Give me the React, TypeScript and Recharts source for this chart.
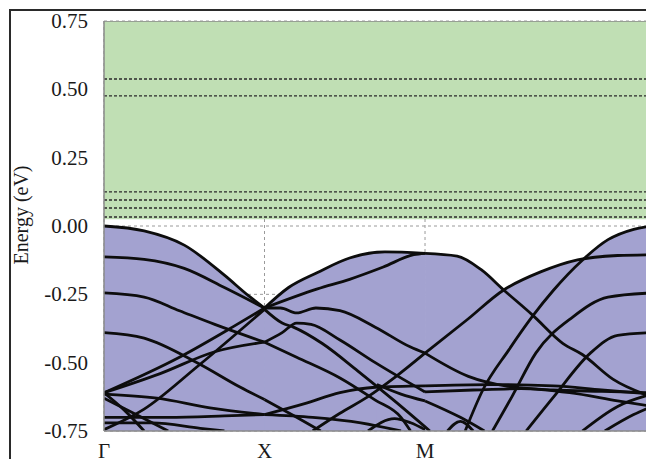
import React from 'react';
import { ComposedChart, Line, Area, XAxis, YAxis, CartesianGrid, Label } from 'recharts';

type P = [number, number];

// high-symmetry path positions (Γ, X, M, Γ)
const kTicks = [0, 1, 2, 3.414];
const kLabels = ['Γ', 'X', 'M', 'Γ'];
const eTicks = [-0.75, -0.5, -0.25, 0, 0.25, 0.5, 0.75];

// conduction region (green) and its flat levels (dashed)
const gapTop = 0.75;
const gapBottom = 0.025;
const levels = [0.538, 0.476, 0.125, 0.095, 0.066, 0.033];

// Γ → X
const bandsGX: P[][] = [
  [[0, 0], [0.25, -0.018], [0.5, -0.07], [0.75, -0.18], [0.9, -0.255], [1, -0.3]],
  [[0, -0.113], [0.25, -0.122], [0.5, -0.155], [0.75, -0.225], [1, -0.3]],
  [[0, -0.245], [0.25, -0.26], [0.47, -0.31], [0.69, -0.36], [1, -0.425]],
  [[0, -0.39], [0.25, -0.41], [0.58, -0.5], [0.85, -0.59], [1, -0.635]],
  [[0, -0.61], [0.47, -0.48], [0.8, -0.37], [1, -0.3]],
  [[0, -0.61], [0.35, -0.54], [0.69, -0.46], [1, -0.425]],
  [[0, -0.745], [0.25, -0.67], [0.58, -0.515], [1, -0.305]],
  [[0, -0.615], [0.33, -0.63], [0.66, -0.665], [1, -0.69]],
  [[0, -0.7], [0.4, -0.7], [0.75, -0.695], [1, -0.69]],
  [[0, -0.61], [0.12, -0.67], [0.25, -0.75]],
  [[0, -0.63], [0.2, -0.69], [0.4, -0.75]],
  [[0, -0.72], [0.3, -0.72], [0.6, -0.74], [0.75, -0.75]],
];

// X → M
const bandsXM: P[][] = [
  [[1, -0.3], [1.15, -0.225], [1.33, -0.17], [1.53, -0.117], [1.75, -0.095], [2, -0.1]],
  [[1, -0.3], [1.33, -0.23], [1.53, -0.195], [1.74, -0.15], [1.93, -0.105], [2, -0.1]],
  [[1, -0.3], [1.1, -0.3], [1.2, -0.318], [1.32, -0.3], [1.47, -0.31], [1.69, -0.37], [1.91, -0.443], [2, -0.465]],
  [[1, -0.425], [1.11, -0.39], [1.2, -0.355], [1.29, -0.36], [1.47, -0.417], [1.69, -0.5], [2, -0.607]],
  [[1, -0.305], [1.11, -0.355], [1.18, -0.37], [1.36, -0.43], [1.58, -0.53], [1.81, -0.64], [2.03, -0.75]],
  [[1, -0.425], [1.2, -0.48], [1.47, -0.556], [1.69, -0.637], [1.85, -0.7], [1.91, -0.75]],
  [[1, -0.635], [1.2, -0.7], [1.35, -0.75]],
  [[1.3, -0.75], [1.47, -0.685], [1.64, -0.626], [1.82, -0.55], [2, -0.465]],
  [[1, -0.69], [1.25, -0.65], [1.47, -0.61], [1.69, -0.59], [2, -0.585]],
  [[1, -0.69], [1.3, -0.7], [1.6, -0.72], [1.85, -0.75]],
  [[1.645, -0.75], [1.81, -0.705], [1.91, -0.72], [2, -0.745]],
  [[1.7, -0.58], [1.85, -0.615], [2, -0.64]],
];

// M → Γ
const bandsMG: P[][] = [
  [[2, -0.1], [2.2, -0.11], [2.35, -0.16], [2.49, -0.234], [2.67, -0.326], [2.86, -0.43], [2.98, -0.47], [3.17, -0.56], [3.414, -0.625]],
  [[2, -0.465], [2.26, -0.344], [2.49, -0.234], [2.72, -0.168], [2.95, -0.124], [3.2, -0.108], [3.414, -0.105]],
  [[2, -0.465], [2.27, -0.55], [2.5, -0.585], [2.8, -0.6], [3.1, -0.605], [3.414, -0.61]],
  [[2.25, -0.75], [2.36, -0.6], [2.52, -0.455], [2.67, -0.33], [2.8, -0.235], [2.98, -0.125], [3.14, -0.05], [3.3, -0.012], [3.414, 0]],
  [[2.42, -0.75], [2.54, -0.626], [2.69, -0.465], [2.92, -0.333], [3.14, -0.26], [3.414, -0.245]],
  [[2.63, -0.75], [2.8, -0.626], [3.03, -0.465], [3.2, -0.4], [3.414, -0.39]],
  [[2.98, -0.75], [3.2, -0.66], [3.414, -0.615]],
  [[3.12, -0.75], [3.3, -0.69], [3.414, -0.66]],
  [[2, -0.607], [2.3, -0.6], [2.6, -0.595], [2.9, -0.61], [3.2, -0.64], [3.414, -0.66]],
  [[2, -0.585], [2.4, -0.58], [2.8, -0.585], [3.1, -0.6], [3.414, -0.615]],
  [[2.14, -0.75], [2.22, -0.715], [2.3, -0.75]],
  [[2, -0.64], [2.22, -0.7], [2.37, -0.75]],
];

const allBands: P[][] = [...bandsGX, ...bandsXM, ...bandsMG];

const toRows = (pts: P[]) => pts.map(([k, e]) => ({ k, e }));

const GREEN = '#c0dfb4';
const PURPLE = '#a3a2d0';
const SERIF = '"Liberation Serif", "Times New Roman", serif';

const YTick = (props: any) => {
  const { x, y, payload } = props;
  return (
    <text x={x} y={y} textAnchor="end" dominantBaseline="central"
      style={{ fontFamily: SERIF, fontSize: 21, fill: '#1a1a1a' }}>
      {Number(payload.value).toFixed(2)}
    </text>
  );
};

const XTick = (props: any) => {
  const { x, y, payload } = props;
  const idx = kTicks.indexOf(payload.value);
  return (
    <text x={x} y={y} dy={11} textAnchor="middle"
      style={{ fontFamily: SERIF, fontSize: 21, fill: '#1a1a1a' }}>
      {idx >= 0 ? kLabels[idx] : ''}
    </text>
  );
};

export default function App() {
  const kMax = kTicks[kTicks.length - 1];
  return (
    <div style={{ position: 'absolute', left: 0, top: 0, width: 646, height: 459, overflow: 'hidden', background: '#fff' }}>
      <div style={{ position: 'absolute', left: 9, top: 9, width: 720, height: 520, borderLeft: '2px solid #2a2a2a', borderTop: '2px solid #2a2a2a' }} />
      <div style={{ position: 'absolute', left: 0, top: 0 }}>
        <ComposedChart width={700} height={470} margin={{ top: 21, right: 48, bottom: 9, left: 0 }}>
          <CartesianGrid stroke="#9a9a9a" strokeDasharray="3 3" strokeWidth={1} />
          <XAxis
            type="number"
            dataKey="k"
            domain={[0, kMax]}
            ticks={kTicks}
            tickLine={false}
            tickSize={6}
            tickMargin={10}
            height={30}
            axisLine={{ stroke: '#8a8a8a', strokeWidth: 1.5 }}
            tick={<XTick />}
            allowDataOverflow
          />
          <YAxis
            type="number"
            dataKey="e"
            domain={[-0.75, 0.75]}
            ticks={eTicks}
            tickLine={false}
            tickSize={6}
            tickMargin={10}
            width={104}
            axisLine={{ stroke: '#8a8a8a', strokeWidth: 1.5 }}
            tick={<YTick />}
            allowDataOverflow
          >
            <Label
              content={(props: any) => {
                const vb = props.viewBox || { x: 0, y: 21, width: 104, height: 410 };
                const cx = vb.x + 21;
                const cy = vb.y + vb.height / 2 - 11;
                return (
                  <text
                    x={cx}
                    y={cy}
                    transform={`rotate(-90 ${cx} ${cy})`}
                    textAnchor="middle"
                    dominantBaseline="central"
                    style={{ fontFamily: SERIF, fontSize: 20, fill: '#1a1a1a' }}
                  >
                    Energy (eV)
                  </text>
                );
              }}
            />
          </YAxis>
          <Area
            data={[{ k: 0, e: gapTop }, { k: kMax, e: gapTop }]}
            dataKey="e"
            type="linear"
            baseValue={gapBottom}
            fill={GREEN}
            fillOpacity={1}
            stroke="#8a8a8a"
            strokeWidth={1.5}
            isAnimationActive={false}
            dot={false}
            activeDot={false}
          />
          {allBands.map((b, i) => (
            <Area
              key={`a${i}`}
              data={toRows(b)}
              dataKey="e"
              type="monotone"
              baseValue={-0.75}
              fill={PURPLE}
              fillOpacity={1}
              stroke="none"
              isAnimationActive={false}
              dot={false}
              activeDot={false}
            />
          ))}
          {levels.map((v, i) => (
            <Line
              key={`l${i}`}
              data={[{ k: 0, e: v }, { k: kMax, e: v }]}
              dataKey="e"
              type="linear"
              stroke="#2a2a2a"
              strokeWidth={1.4}
              strokeDasharray="3 2"
              dot={false}
              activeDot={false}
              isAnimationActive={false}
            />
          ))}
          {allBands.map((b, i) => (
            <Line
              key={`b${i}`}
              data={toRows(b)}
              dataKey="e"
              type="monotone"
              stroke="#0d0d0d"
              strokeWidth={2.8}
              dot={false}
              activeDot={false}
              isAnimationActive={false}
            />
          ))}
        </ComposedChart>
      </div>
    </div>
  );
}
